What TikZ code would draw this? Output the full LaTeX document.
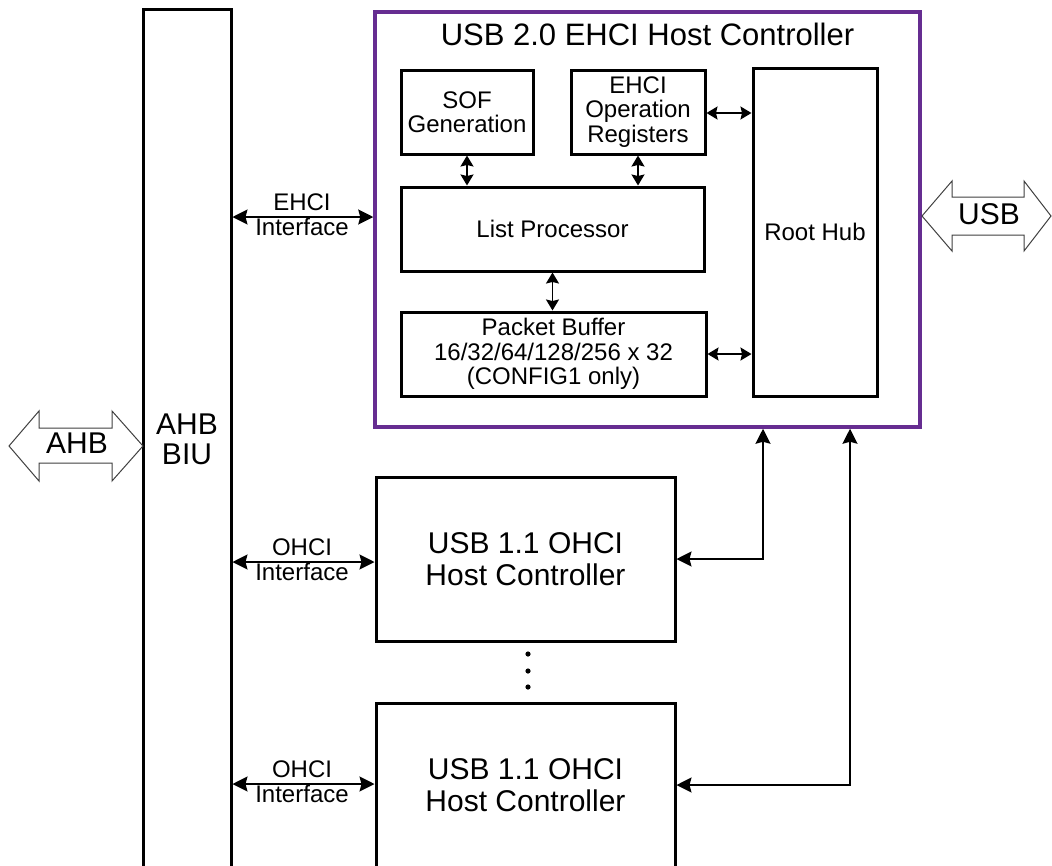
\documentclass[tikz,border=0pt]{standalone}
\usepackage{fontspec}
\setmainfont{Liberation Sans}
\usetikzlibrary{arrows.meta}
\definecolor{ehcipurple}{RGB}{102,45,145}
\begin{document}
\begin{tikzpicture}[x=1pt,y=-1pt,
  box/.style={draw=black, line width=3pt, inner sep=0pt, align=center,
              font=\fontsize{24}{24.5}\selectfont},
  bigbox/.style={draw=black, line width=3pt, inner sep=0pt, align=center,
              font=\fontsize{30}{32}\selectfont},
  lbl/.style={inner sep=0pt, anchor=base, font=\fontsize{24}{25}\selectfont},
  conn/.style={line width=1.6pt,
     {Stealth[length=15pt,width=15pt,inset=2pt]}-{Stealth[length=15pt,width=15pt,inset=2pt]}},
  shortconn/.style={line width=1.6pt,
     {Stealth[length=11pt,width=13pt,inset=1.5pt]}-{Stealth[length=11pt,width=13pt,inset=1.5pt]}},
  blockarrow/.style={draw=black!75, line width=1pt, fill=white, line join=miter},
  dotmark/.style={fill=black}]
\useasboundingbox (0,0) rectangle (1052,865);

% AHB BIU
\node[bigbox, font=\fontsize{30}{30}\selectfont, minimum width=88pt, minimum height=861pt] (biu) at (187,439.5) {AHB\\BIU};

% EHCI host controller
\node[draw=ehcipurple, line width=3.5pt, minimum width=545pt, minimum height=415pt, inner sep=0pt] (ehci) at (647.5,219.5) {};
\node[anchor=base, inner sep=0pt, font=\fontsize{31}{32}\selectfont] (title) at (647.5,45) {USB 2.0 EHCI Host Controller};

\node[box, minimum width=132pt, minimum height=84pt] (sof) at (467,112) {SOF\\Generation};
\node[box, minimum width=134pt, minimum height=84pt] (eop) at (638,112) {EHCI\\Operation\\Registers};
\node[box, minimum width=124pt, minimum height=328pt] (rh) at (815,232) {Root Hub};
\node[box, minimum width=303pt, minimum height=84pt] (lp) at (552.5,229) {List Processor};
\node[box, minimum width=305pt, minimum height=84pt] (pb) at (553.5,354) {Packet Buffer\\16/32/64/128/256 x 32\\(CONFIG1 only)};

% OHCI host controllers
\node[bigbox, minimum width=299pt, minimum height=164pt] (oh1) at (525.5,559) {USB 1.1 OHCI\\Host Controller};
\node[bigbox, minimum width=299pt, minimum height=164pt] (oh2) at (525.5,785) {USB 1.1 OHCI\\Host Controller};

% dots
\fill[dotmark] (528,654) circle (2.6pt);
\fill[dotmark] (528,671) circle (2.6pt);
\fill[dotmark] (528,687) circle (2.6pt);

% inner connectors
\draw[shortconn] (sof.south) -- (sof.south |- lp.north);
\draw[shortconn] (eop.south) -- (eop.south |- lp.north);
\draw[shortconn] (lp.south) -- (lp.south |- pb.north);
\coordinate (eopy) at (0,113);
\draw[shortconn] (eop.east |- eopy) -- (rh.west |- eopy);
\draw[shortconn] (pb.east) -- (pb.east -| rh.west);

% interfaces
\coordinate (ify) at (0,217);
\draw[conn] (biu.east |- ify) -- (ehci.west |- ify);
\node[lbl] (eif1) at (302,210) {EHCI};
\node[lbl] (eif2) at (302,235) {Interface};

\coordinate (o1y) at (0,562);
\draw[conn] (biu.east |- o1y) -- (oh1.west |- o1y);
\node[lbl] (oif1a) at (302,555) {OHCI};
\node[lbl] (oif1b) at (302,580) {Interface};

\coordinate (o2y) at (0,784);
\draw[conn] (biu.east |- o2y) -- (oh2.west |- o2y);
\node[lbl] (oif2a) at (302,777) {OHCI};
\node[lbl] (oif2b) at (302,802) {Interface};

% root hub links to OHCI
\coordinate (j1) at (763,0);
\coordinate (j2) at (850,0);
\draw[conn] (oh1.east) -| (j1 |- ehci.south);
\draw[conn] (oh2.east) -| (j2 |- ehci.south);

% AHB block arrow
\draw[blockarrow] (9,446) -- (39,411) -- (39,428) -- (112,428) -- (112,411) -- (143,446)
   -- (112,481) -- (112,463) -- (39,463) -- (39,481) -- cycle;
\node[inner sep=0pt, font=\fontsize{30}{30}\selectfont] (ahbt) at (77,443) {AHB};

% USB block arrow
\draw[blockarrow] (922,216) -- (952,181) -- (952,197) -- (1024,197) -- (1024,181) -- (1051,216)
   -- (1024,251) -- (1024,235) -- (952,235) -- (952,251) -- cycle;
\node[inner sep=0pt, font=\fontsize{30}{30}\selectfont] (usbt) at (989,214) {USB};
\end{tikzpicture}
\end{document}
